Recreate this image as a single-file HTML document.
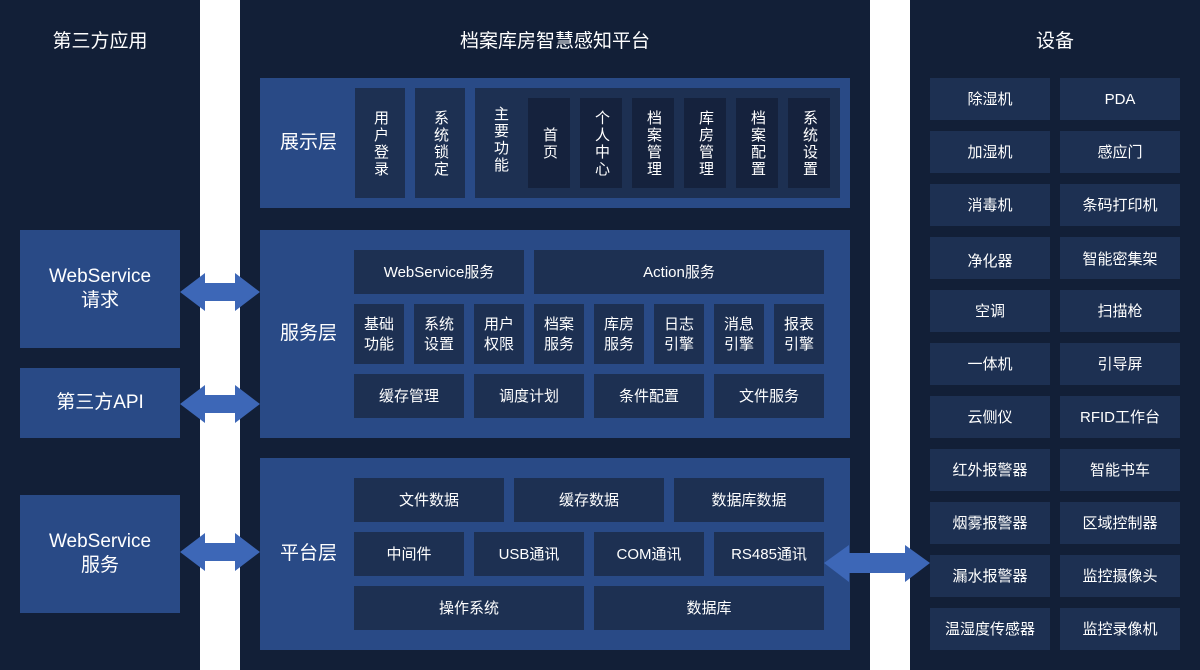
<!DOCTYPE html>
<html><head><meta charset="utf-8"><style>
*{margin:0;padding:0;box-sizing:border-box}
body{width:1200px;height:670px;background:#fff;position:relative;overflow:hidden;font-family:"Liberation Sans","Noto Sans CJK SC",sans-serif;color:#fff}
.col{position:absolute;top:0;height:670px;background:#121f37}
.t{position:absolute;top:28px;font-size:19px;text-align:center;line-height:28px}
.p{position:absolute;background:#294a86}
.b{position:absolute;background:#1d3052;display:flex;align-items:center;justify-content:center;text-align:center;font-size:15px;line-height:20px;padding-top:2px}
.v{writing-mode:vertical-rl;letter-spacing:2px;font-size:15px;line-height:20px}
.lb{position:absolute;background:#294a86;display:flex;align-items:center;justify-content:center;text-align:center;font-size:19px;line-height:24px}
.lay{position:absolute;font-size:19px;line-height:24px}
svg{position:absolute}
</style></head><body>
<div class="col" style="left:0;width:200px"></div>
<div class="col" style="left:240px;width:630px"></div>
<div class="col" style="left:910px;width:290px"></div>
<div class="t" style="left:0;width:200px">第三方应用</div>
<div class="t" style="left:240px;width:630px">档案库房智慧感知平台</div>
<div class="t" style="left:910px;width:290px">设备</div>

<div class="lb" style="left:20px;top:230px;width:160px;height:118px">WebService<br>请求</div>
<div class="lb" style="left:20px;top:368px;width:160px;height:70px">第三方API</div>
<div class="lb" style="left:20px;top:495px;width:160px;height:118px">WebService<br>服务</div>

<div class="p" style="left:260px;top:78px;width:590px;height:130px"></div>
<div class="lay" style="left:280px;top:131px">展示层</div>
<div class="b" style="left:355px;top:88px;width:50px;height:110px"><span class="v">用户登录</span></div>
<div class="b" style="left:415px;top:88px;width:50px;height:110px"><span class="v">系统锁定</span></div>
<div class="b" style="left:475px;top:88px;width:365px;height:110px"></div>
<div style="position:absolute;left:485px;top:106px;width:30px;display:flex;justify-content:center"><span class="v">主要功能</span></div>
<div class="b" style="left:528px;top:98px;width:42px;height:90px;background:#15223d"><span class="v">首页</span></div>
<div class="b" style="left:580px;top:98px;width:42px;height:90px;background:#15223d"><span class="v">个人中心</span></div>
<div class="b" style="left:632px;top:98px;width:42px;height:90px;background:#15223d"><span class="v">档案管理</span></div>
<div class="b" style="left:684px;top:98px;width:42px;height:90px;background:#15223d"><span class="v">库房管理</span></div>
<div class="b" style="left:736px;top:98px;width:42px;height:90px;background:#15223d"><span class="v">档案配置</span></div>
<div class="b" style="left:788px;top:98px;width:42px;height:90px;background:#15223d"><span class="v">系统设置</span></div>

<div class="p" style="left:260px;top:230px;width:590px;height:208px"></div>
<div class="lay" style="left:280px;top:322px">服务层</div>
<div class="b" style="left:354px;top:250px;width:170px;height:44px">WebService服务</div>
<div class="b" style="left:534px;top:250px;width:290px;height:44px">Action服务</div>
<div class="b" style="left:354px;top:304px;width:50px;height:60px">基础<br>功能</div>
<div class="b" style="left:414px;top:304px;width:50px;height:60px">系统<br>设置</div>
<div class="b" style="left:474px;top:304px;width:50px;height:60px">用户<br>权限</div>
<div class="b" style="left:534px;top:304px;width:50px;height:60px">档案<br>服务</div>
<div class="b" style="left:594px;top:304px;width:50px;height:60px">库房<br>服务</div>
<div class="b" style="left:654px;top:304px;width:50px;height:60px">日志<br>引擎</div>
<div class="b" style="left:714px;top:304px;width:50px;height:60px">消息<br>引擎</div>
<div class="b" style="left:774px;top:304px;width:50px;height:60px">报表<br>引擎</div>
<div class="b" style="left:354px;top:374px;width:110px;height:44px">缓存管理</div>
<div class="b" style="left:474px;top:374px;width:110px;height:44px">调度计划</div>
<div class="b" style="left:594px;top:374px;width:110px;height:44px">条件配置</div>
<div class="b" style="left:714px;top:374px;width:110px;height:44px">文件服务</div>

<div class="p" style="left:260px;top:458px;width:590px;height:192px"></div>
<div class="lay" style="left:280px;top:542px">平台层</div>
<div class="b" style="left:354px;top:478px;width:150px;height:44px">文件数据</div>
<div class="b" style="left:514px;top:478px;width:150px;height:44px">缓存数据</div>
<div class="b" style="left:674px;top:478px;width:150px;height:44px">数据库数据</div>
<div class="b" style="left:354px;top:532px;width:110px;height:44px">中间件</div>
<div class="b" style="left:474px;top:532px;width:110px;height:44px">USB通讯</div>
<div class="b" style="left:594px;top:532px;width:110px;height:44px">COM通讯</div>
<div class="b" style="left:714px;top:532px;width:110px;height:44px">RS485通讯</div>
<div class="b" style="left:354px;top:586px;width:230px;height:44px">操作系统</div>
<div class="b" style="left:594px;top:586px;width:230px;height:44px">数据库</div>

<div class="b" style="left:930px;top:78px;width:120px;height:42px">除湿机</div>
<div class="b" style="left:1060px;top:78px;width:120px;height:42px">PDA</div>
<div class="b" style="left:930px;top:131px;width:120px;height:42px">加湿机</div>
<div class="b" style="left:1060px;top:131px;width:120px;height:42px">感应门</div>
<div class="b" style="left:930px;top:184px;width:120px;height:42px">消毒机</div>
<div class="b" style="left:1060px;top:184px;width:120px;height:42px">条码打印机</div>
<div class="b" style="left:930px;top:237px;width:120px;height:42px;padding-top:8px">净化器</div>
<div class="b" style="left:1060px;top:237px;width:120px;height:42px;padding-top:4px">智能密集架</div>
<div class="b" style="left:930px;top:290px;width:120px;height:42px">空调</div>
<div class="b" style="left:1060px;top:290px;width:120px;height:42px">扫描枪</div>
<div class="b" style="left:930px;top:343px;width:120px;height:42px">一体机</div>
<div class="b" style="left:1060px;top:343px;width:120px;height:42px">引导屏</div>
<div class="b" style="left:930px;top:396px;width:120px;height:42px">云侧仪</div>
<div class="b" style="left:1060px;top:396px;width:120px;height:42px">RFID工作台</div>
<div class="b" style="left:930px;top:449px;width:120px;height:42px">红外报警器</div>
<div class="b" style="left:1060px;top:449px;width:120px;height:42px">智能书车</div>
<div class="b" style="left:930px;top:502px;width:120px;height:42px">烟雾报警器</div>
<div class="b" style="left:1060px;top:502px;width:120px;height:42px">区域控制器</div>
<div class="b" style="left:930px;top:555px;width:120px;height:42px">漏水报警器</div>
<div class="b" style="left:1060px;top:555px;width:120px;height:42px">监控摄像头</div>
<div class="b" style="left:930px;top:608px;width:120px;height:42px">温湿度传感器</div>
<div class="b" style="left:1060px;top:608px;width:120px;height:42px">监控录像机</div>

<svg width="1200" height="670" style="left:0;top:0" viewBox="0 0 1200 670">
<g fill="#3d67b7">
<polygon points="180,292 205,273 205,283 235,283 235,273 260,292 235,311 235,301 205,301 205,311"/>
<polygon points="180,404 205,385 205,395 235,395 235,385 260,404 235,423 235,413 205,413 205,423"/>
<polygon points="180,552 205,533 205,543 235,543 235,533 260,552 235,571 235,561 205,561 205,571"/>
<polygon points="824,563 849,545 849,553 905,553 905,545 930,563 905,582 905,573 849,573 849,582"/>
</g>
</svg>
</body></html>
